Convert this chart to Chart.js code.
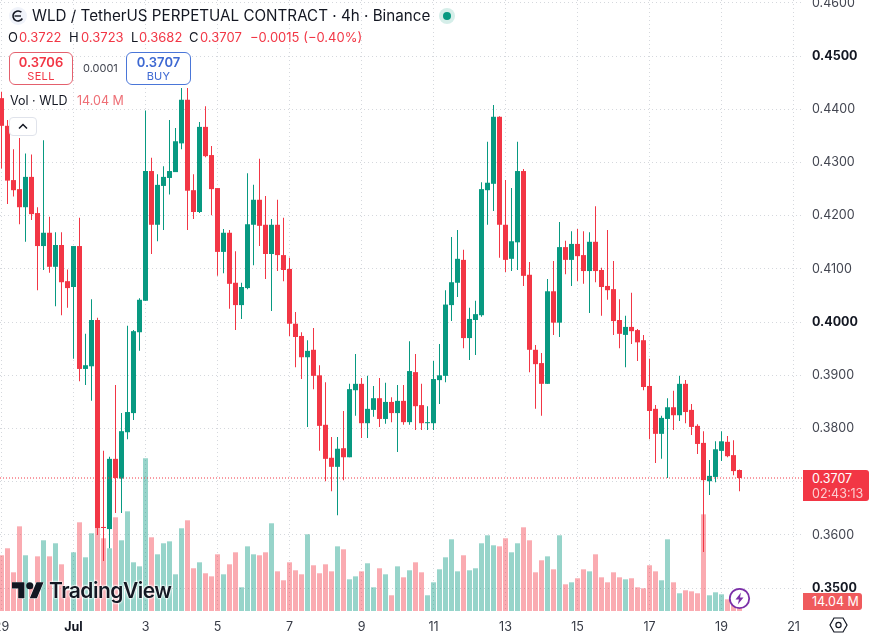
<!DOCTYPE html>
<html>
<head>
<meta charset="utf-8">
<title>WLD / TetherUS 4h</title>
<script src="https://cdn.jsdelivr.net/npm/chart.js@4"></script>
<style>
  html, body { margin: 0; padding: 0; background: #fff; width: 874px; height: 639px; overflow: hidden; }
  body { position: relative; font-family: Inter, "Noto Sans", sans-serif; color: #131722; }
  #chart { position: absolute; left: 0; top: 0; }
  .abs { position: absolute; white-space: nowrap; line-height: 1; }
  .red { color: #f23645; }
  .ohlc { top: 31px; font-size: 13px; }
  .box { position: absolute; box-sizing: border-box; background: #fff; border: 1px solid; border-radius: 6px; text-align: center; }
  .box b { display: block; font-size: 13px; font-weight: 600; line-height: 14px; margin-top: 2px; }
  .box span { display: block; font-size: 11px; line-height: 14px; letter-spacing: .3px; }
  .tag { position: absolute; left: 803px; box-sizing: border-box; color: #fff; font-size: 12.5px; padding-left: 9px; }
</style>
</head>
<body>
<canvas id="chart" width="874" height="639"></canvas>

<!-- header -->
<svg class="abs" style="left:8px;top:6px" width="20" height="20" viewBox="0 0 20 20">
  <circle cx="10" cy="10" r="9" fill="#f0f3fa"/>
  <circle cx="10" cy="10" r="5" fill="none" stroke="#131722" stroke-width="1.6" stroke-dasharray="24 7" transform="rotate(30 10 10)"/>
  <path d="M6.5 10H13" stroke="#131722" stroke-width="1.4"/>
</svg>
<div class="abs" style="left:32px;top:8px;font-size:15.2px">WLD / TetherUS PERPETUAL CONTRACT · 4h · Binance</div>
<svg class="abs" style="left:438px;top:7px" width="18" height="18" viewBox="0 0 18 18">
  <circle cx="9" cy="9" r="8" fill="#d5eee9"/>
  <circle cx="9" cy="9" r="4" fill="#089981"/>
</svg>
<div class="abs ohlc" style="left:8px">O</div>
<div class="abs ohlc red" style="left:19px">0.3722</div>
<div class="abs ohlc" style="left:69px">H</div>
<div class="abs ohlc red" style="left:81px">0.3723</div>
<div class="abs ohlc" style="left:131px">L</div>
<div class="abs ohlc red" style="left:139px">0.3682</div>
<div class="abs ohlc" style="left:189px">C</div>
<div class="abs ohlc red" style="left:200px">0.3707</div>
<div class="abs ohlc red" style="left:250px">−0.0015 (−0.40%)</div>

<div class="box red" style="left:9px;top:52px;width:64px;height:33px;border-color:#e4606d"><b>0.3706</b><span>SELL</span></div>
<div class="abs" style="left:83px;top:63px;font-size:11px;color:#434651">0.0001</div>
<div class="box" style="left:126px;top:52px;width:65px;height:33px;border-color:#4a76d8;color:#3d68d2"><b>0.3707</b><span>BUY</span></div>

<div class="abs" style="left:10px;top:95px;font-size:12.5px">Vol · WLD</div>
<div class="abs" style="left:77px;top:95px;font-size:12.5px;color:#ee6f76">14.04 M</div>
<div class="abs" style="left:9px;top:117px;width:28px;height:19px;box-sizing:border-box;background:#fff;border:1px solid #e0e3eb;border-radius:4px"></div>
<svg class="abs" style="left:17px;top:122px" width="12" height="9" viewBox="0 0 12 9">
  <path d="M2 6.5L6 2.5L10 6.5" fill="none" stroke="#131722" stroke-width="1.5"/>
</svg>

<!-- price axis tags -->
<div class="tag" style="top:470px;width:66px;height:31px;background:#f23645;border-radius:0 3px 3px 0">
  <div style="line-height:15px;margin-top:1px">0.3707</div>
  <div style="line-height:15px;opacity:.75">02:43:13</div>
</div>
<div class="tag" style="top:593px;width:59px;height:17px;line-height:17px;background:#ef5a5d;border-radius:0 3px 3px 0">14.04 M</div>
<svg class="abs" style="left:829px;top:615px" width="19" height="20" viewBox="0 0 19 20">
  <path d="M5 3H14L18 10L14 17H5L1 10Z" fill="none" stroke="#131722" stroke-width="1.2"/>
  <circle cx="9.5" cy="10" r="2.6" fill="none" stroke="#131722" stroke-width="1.2"/>
</svg>

<!-- TradingView mark -->
<svg class="abs" style="left:12px;top:582px" width="32" height="20" viewBox="0 0 36 22">
  <path d="M14 18H7V7H0V0h14zM28 18h-8l7.5-18h8z" fill="#131722" stroke="#fff" stroke-width="1.2" paint-order="stroke"/>
  <circle cx="20" cy="4" r="4" fill="#131722"/>
</svg>
<div class="abs" style="left:49px;top:580px;font-size:21px;font-weight:600;letter-spacing:-.5px;color:#131722;text-shadow:0 0 2px #fff,0 0 2px #fff,0 0 3px #fff">TradingView</div>

<svg class="abs" style="left:728px;top:587px" width="23" height="23" viewBox="0 0 23 23">
  <circle cx="11.5" cy="11.5" r="9.7" fill="#fff" stroke="#7b2fa8" stroke-width="1.8"/>
  <path d="M13 5.5L7.5 12.5H11L9.8 17.5L15.5 10.5H12Z" fill="#7b2fa8"/>
</svg>

<script>
// WLD/USDT perpetual, 4h candles, starting 29 June 00:00
const opens = [
  0.4421, 0.4369, 0.4267, 0.4250, 0.4216, 0.4273, 0.4205, 0.4143, 0.4168, 0.4104, 0.4145, 0.4077,
  0.4066, 0.4143, 0.3912, 0.3917, 0.4004, 0.3615, 0.3611, 0.3743, 0.3706, 0.3793, 0.3829, 0.3981,
  0.4040, 0.4284, 0.4183, 0.4256, 0.4271, 0.4282, 0.4336, 0.4418, 0.4248, 0.4207, 0.4367, 0.4314,
  0.4252, 0.4132, 0.4168, 0.4074, 0.4032, 0.4064, 0.4183, 0.4230, 0.4183, 0.4128, 0.4183, 0.4126,
  0.4100, 0.3997, 0.3974, 0.3934, 0.3948, 0.3900, 0.3807, 0.3745, 0.3728, 0.3763, 0.3746, 0.3872,
  0.3884, 0.3810, 0.3835, 0.3857, 0.3818, 0.3850, 0.3829, 0.3852, 0.3812, 0.3906, 0.3844, 0.3810,
  0.3810, 0.3891, 0.3899, 0.4032, 0.4074, 0.4117, 0.3970, 0.4004, 0.4013, 0.4248, 0.4260, 0.4386,
  0.4183, 0.4119, 0.4150, 0.4284, 0.4089, 0.3948, 0.3923, 0.3884, 0.4058, 0.3999, 0.4141, 0.4117,
  0.4147, 0.4126, 0.4096, 0.4151, 0.4098, 0.4068, 0.4062, 0.4004, 0.3976, 0.3991, 0.3985, 0.3966,
  0.3880, 0.3837, 0.3790, 0.3818, 0.3840, 0.3825, 0.3884, 0.3835, 0.3805, 0.3773, 0.3701, 0.3709,
  0.3758, 0.3775, 0.3750, 0.3722
];
const highs = [
  0.4433, 0.4380, 0.4325, 0.4346, 0.4317, 0.4315, 0.4216, 0.4342, 0.4198, 0.4169, 0.4169, 0.4099,
  0.4143, 0.4196, 0.3978, 0.4043, 0.4008, 0.3758, 0.3747, 0.3882, 0.3829, 0.3993, 0.3985, 0.4045,
  0.4398, 0.4309, 0.4278, 0.4293, 0.4380, 0.4365, 0.4440, 0.4440, 0.4278, 0.4376, 0.4406, 0.4331,
  0.4252, 0.4175, 0.4173, 0.4133, 0.4074, 0.4280, 0.4258, 0.4307, 0.4237, 0.4194, 0.4230, 0.4196,
  0.4121, 0.4019, 0.3981, 0.3966, 0.3989, 0.3919, 0.3887, 0.3784, 0.3784, 0.3833, 0.3884, 0.3940,
  0.3895, 0.3899, 0.3880, 0.3895, 0.3886, 0.3859, 0.3882, 0.3882, 0.3964, 0.3940, 0.3884, 0.3842,
  0.3927, 0.3959, 0.4060, 0.4160, 0.4173, 0.4136, 0.4027, 0.4040, 0.4263, 0.4339, 0.4408, 0.4387,
  0.4267, 0.4252, 0.4339, 0.4288, 0.4113, 0.3957, 0.3942, 0.4081, 0.4115, 0.4188, 0.4153, 0.4171,
  0.4175, 0.4171, 0.4169, 0.4218, 0.4102, 0.4173, 0.4115, 0.4043, 0.4012, 0.4055, 0.3987, 0.3976,
  0.3931, 0.3844, 0.3824, 0.3857, 0.3871, 0.3899, 0.3891, 0.3846, 0.3808, 0.3795, 0.3741, 0.3776,
  0.3795, 0.3786, 0.3778, 0.3723
];
const lows = [
  0.4289, 0.4222, 0.4236, 0.4184, 0.4151, 0.4192, 0.4060, 0.4098, 0.4093, 0.4030, 0.4013, 0.4027,
  0.3931, 0.3889, 0.3882, 0.3852, 0.3600, 0.3551, 0.3575, 0.3641, 0.3641, 0.3780, 0.3816, 0.3946,
  0.4040, 0.4128, 0.4152, 0.4173, 0.4240, 0.4282, 0.4325, 0.4173, 0.4194, 0.4205, 0.4310, 0.4201,
  0.4087, 0.4092, 0.4025, 0.3985, 0.4006, 0.4062, 0.4107, 0.4143, 0.4081, 0.4021, 0.4096, 0.4077,
  0.3974, 0.3915, 0.3893, 0.3803, 0.3874, 0.3758, 0.3701, 0.3682, 0.3637, 0.3703, 0.3746, 0.3824,
  0.3782, 0.3782, 0.3822, 0.3803, 0.3809, 0.3812, 0.3756, 0.3807, 0.3807, 0.3797, 0.3797, 0.3797,
  0.3797, 0.3846, 0.3887, 0.4002, 0.4047, 0.3951, 0.3929, 0.3938, 0.4010, 0.4183, 0.4209, 0.4121,
  0.4094, 0.4096, 0.4098, 0.4068, 0.3906, 0.3837, 0.3824, 0.3884, 0.3976, 0.3972, 0.4090, 0.4068,
  0.4077, 0.4072, 0.4017, 0.4075, 0.4012, 0.4042, 0.3976, 0.3951, 0.3915, 0.3959, 0.3927, 0.3872,
  0.3780, 0.3735, 0.3743, 0.3707, 0.3797, 0.3814, 0.3810, 0.3788, 0.3752, 0.3568, 0.3675, 0.3699,
  0.3739, 0.3746, 0.3712, 0.3682
];
const closes = [
  0.4369, 0.4266, 0.4248, 0.4216, 0.4273, 0.4203, 0.4143, 0.4168, 0.4104, 0.4145, 0.4075, 0.4064,
  0.4143, 0.3912, 0.3919, 0.4004, 0.3613, 0.3613, 0.3743, 0.3707, 0.3795, 0.3831, 0.3983, 0.4042,
  0.4284, 0.4183, 0.4258, 0.4273, 0.4284, 0.4340, 0.4418, 0.4247, 0.4207, 0.4367, 0.4312, 0.4250,
  0.4132, 0.4168, 0.4072, 0.4032, 0.4066, 0.4184, 0.4230, 0.4181, 0.4128, 0.4183, 0.4126, 0.4098,
  0.3997, 0.3972, 0.3934, 0.3946, 0.3899, 0.3805, 0.3743, 0.3728, 0.3762, 0.3746, 0.3874, 0.3884,
  0.3810, 0.3837, 0.3857, 0.3818, 0.3850, 0.3829, 0.3852, 0.3812, 0.3908, 0.3842, 0.3810, 0.3812,
  0.3893, 0.3900, 0.4033, 0.4075, 0.4119, 0.3970, 0.4006, 0.4015, 0.4250, 0.4262, 0.4386, 0.4183,
  0.4117, 0.4152, 0.4284, 0.4087, 0.3948, 0.3921, 0.3884, 0.4058, 0.3999, 0.4141, 0.4117, 0.4147,
  0.4124, 0.4096, 0.4151, 0.4096, 0.4066, 0.4060, 0.4002, 0.3978, 0.3991, 0.3983, 0.3962, 0.3878,
  0.3833, 0.3790, 0.3820, 0.3840, 0.3825, 0.3884, 0.3831, 0.3803, 0.3771, 0.3703, 0.3711, 0.3761,
  0.3776, 0.3748, 0.3720, 0.3707
];
// volume in millions of WLD
const volumes = [
  85.8, 96.6, 59.6, 130.4, 85.8, 36.5, 84.2, 108.9, 84.2, 104.3, 71.9, 31.9,
  90.4, 136.6, 82.7, 119.7, 132.0, 112.0, 96.6, 144.3, 108.9, 153.5, 75.0, 68.8,
  235.2, 113.5, 87.3, 104.3, 107.3, 56.5, 127.4, 139.7, 65.8, 75.0, 58.1, 53.4,
  87.3, 56.5, 71.9, 90.4, 36.5, 99.6, 87.3, 85.8, 90.4, 135.1, 61.1, 47.3,
  75.0, 62.7, 56.5, 118.1, 70.4, 58.1, 71.9, 61.1, 99.6, 95.0, 48.8, 53.4,
  61.1, 73.5, 36.5, 65.8, 56.5, 24.2, 68.8, 51.9, 62.7, 75.0, 59.6, 24.2,
  44.2, 64.2, 82.7, 110.4, 61.1, 85.8, 62.7, 65.8, 104.3, 116.6, 101.2, 99.6,
  112.0, 90.4, 104.3, 128.9, 108.9, 59.6, 78.1, 84.2, 64.2, 116.6, 41.1, 44.2,
  50.4, 64.2, 61.1, 87.3, 51.9, 44.2, 59.6, 51.9, 48.8, 50.4, 36.5, 35.0,
  70.4, 61.1, 47.3, 110.4, 44.2, 27.3, 31.9, 30.3, 27.3, 148.9, 24.2, 28.8,
  25.7, 18.0, 11.9, 14.04
];
const dayLabels = ['29', 'Jul', '3', '5', '7', '9', '11', '13', '15', '17', '19', '21'];
const dayTicks = [-12, 0, 12, 24, 36, 48, 60, 72, 84, 96, 108, 120];
const boldPrices = [0.45, 0.40, 0.35];

const UP = '#089981', DOWN = '#f23645';
const UP_VOL = 'rgba(8, 153, 129, 0.42)', DOWN_VOL = 'rgba(242, 54, 69, 0.42)';
const GRID = '#d5d8dd';

const isUp = opens.map((o, i) => closes[i] >= o);
const candleColors = isUp.map(up => up ? UP : DOWN);
const volumeColors = isUp.map(up => up ? UP_VOL : DOWN_VOL);
const candleX = i => i - 12;  // first July candle sits at x = 0

const isBoldPrice = ctx => ctx.tick && boldPrices.some(p => Math.abs(p - ctx.tick.value) < 1e-6);

const lastClose = closes[closes.length - 1];
const xMin = -12.25, xMax = 121.583;

new Chart(document.getElementById('chart'), {
  type: 'bar',
  data: {
    datasets: [
      {
        type: 'line',
        data: [{ x: xMin, y: lastClose }, { x: xMax, y: lastClose }],
        yAxisID: 'y',
        borderColor: DOWN,
        borderWidth: 1,
        borderDash: [1, 2],
        pointRadius: 0,
        order: 0
      },
      {
        data: opens.map((o, i) => ({ x: candleX(i), y: [o, closes[i]] })),
        yAxisID: 'y',
        backgroundColor: candleColors,
        barThickness: 5,
        grouped: false,
        inflateAmount: 0,
        order: 1
      },
      {
        data: lows.map((l, i) => ({ x: candleX(i), y: [l, highs[i]] })),
        yAxisID: 'y',
        backgroundColor: candleColors,
        barThickness: 1,
        grouped: false,
        inflateAmount: 0,
        order: 2
      },
      {
        data: volumes.map((v, i) => ({ x: candleX(i), y: v })),
        yAxisID: 'vol',
        backgroundColor: volumeColors,
        barThickness: 5,
        grouped: false,
        inflateAmount: 0,
        order: 3
      }
    ]
  },
  options: {
    responsive: false,
    animation: false,
    layout: { padding: 0 },
    plugins: { legend: { display: false }, tooltip: { enabled: false } },
    scales: {
      x: {
        type: 'linear',
        offset: false,
        min: xMin,
        max: xMax,
        grid: { offset: false, color: GRID, drawTicks: false },
        border: { display: false, dash: [1, 3] },
        afterBuildTicks: s => { s.ticks = dayTicks.map(v => ({ value: v })); },
        afterFit: s => { s.height = 28; s.paddingLeft = 0; s.paddingRight = 0; },
        ticks: {
          autoSkip: false,
          maxRotation: 0,
          padding: 9,
          color: ctx => ctx.index === 1 ? '#131722' : '#363a45',
          font: ctx => ({ family: 'Inter', size: 12.5, weight: ctx.index === 1 ? 'bold' : 'normal' }),
          callback: (v, i) => dayLabels[i]
        }
      },
      y: {
        position: 'right',
        min: 0.3457,
        max: 0.46055,
        grid: { color: GRID, drawTicks: false },
        border: { display: false, dash: [1, 3] },
        afterFit: s => { s.width = 71; s.paddingTop = 0; s.paddingBottom = 0; },
        ticks: {
          stepSize: 0.01,
          padding: 9,
          includeBounds: false,
          color: ctx => isBoldPrice(ctx) ? '#131722' : '#434651',
          font: ctx => ({ family: 'Inter', size: 12.5, weight: isBoldPrice(ctx) ? 'bold' : 'normal' }),
          callback: v => v.toFixed(4)
        }
      },
      vol: { display: false, min: 0, max: 941 }
    }
  }
});
</script>
</body>
</html>
